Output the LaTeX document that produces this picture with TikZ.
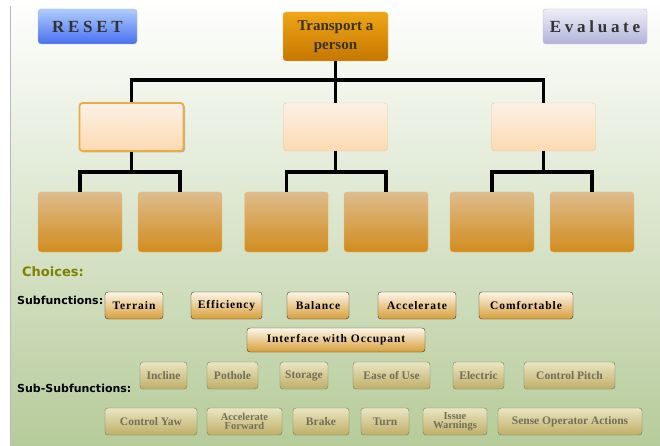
\documentclass[tikz,border=0pt]{standalone}
\usepackage{fontspec}
\setmainfont{Liberation Serif}
\setsansfont{DejaVu Sans}
\newfontfamily\widefont[LetterSpace=22]{Liberation Serif}
\newfontfamily\btnfont[LetterSpace=8]{Liberation Serif}
\usetikzlibrary{shadows}

\definecolor{bgmid}{RGB}{218,228,204}
\definecolor{bgbot}{RGB}{182,203,154}
\definecolor{resettop}{RGB}{176,204,252}
\definecolor{resetbot}{RGB}{72,112,240}
\definecolor{evaltop}{RGB}{238,238,246}
\definecolor{evalbot}{RGB}{178,178,220}
\definecolor{roottop}{RGB}{238,166,22}
\definecolor{rootbot}{RGB}{198,118,0}
\definecolor{roottext}{RGB}{56,50,24}
\definecolor{midtop}{RGB}{252,241,230}
\definecolor{midbot}{RGB}{252,218,178}
\definecolor{midline}{RGB}{240,200,140}
\definecolor{selline}{RGB}{232,172,72}
\definecolor{leaftop}{RGB}{222,188,140}
\definecolor{leafbot}{RGB}{210,140,30}
\definecolor{leafline}{RGB}{234,194,124}
\definecolor{subtop}{RGB}{252,246,232}
\definecolor{subbot}{RGB}{216,158,58}
\definecolor{subline}{RGB}{62,52,32}
\definecolor{offtop}{RGB}{234,230,194}
\definecolor{offbot}{RGB}{192,174,104}
\definecolor{offline}{RGB}{120,122,92}
\definecolor{offtext}{RGB}{112,112,88}
\definecolor{olivetext}{RGB}{128,128,0}

\begin{document}
\begin{tikzpicture}[x=1pt, y=-1pt,
  box/.style={rounded corners=3pt, inner sep=0pt},
  topbtn/.style={box, draw=gray!50, minimum height=35pt,
    font=\widefont\bfseries\fontsize{17}{20}\selectfont, text=black!80},
  midbox/.style={box, draw=midline, top color=midtop, bottom color=midbot,
    minimum width=104pt, minimum height=48pt},
  leafbox/.style={box, draw=leafline, top color=leaftop, bottom color=leafbot,
    minimum width=84pt, minimum height=60pt},
  tree/.style={line width=3.5pt, black},
  subbtn/.style={box, draw=subline, top color=subtop, bottom color=subbot,
    minimum height=27pt, font=\btnfont\bfseries\fontsize{11.5}{12}\selectfont},
  offbtn/.style={box, draw=offline, top color=offtop, bottom color=offbot,
    minimum height=27pt, text=offtext, align=center,
    font=\bfseries\fontsize{11.5}{10}\selectfont},
  twoline/.style={font=\bfseries\fontsize{10.5}{9.5}\selectfont},
  label/.style={anchor=west, inner sep=0pt, font=\sffamily\bfseries\fontsize{11}{13}\selectfont}]

  \useasboundingbox (0,0) rectangle (660,446);
  \fill[white] (0,0) rectangle (660,446);
  \shade[top color=white, middle color=bgmid, bottom color=bgbot] (11,0) rectangle (660,446);
  \draw[gray!55, line width=1pt] (10.5,6) -- (10.5,446);

  \node[topbtn, top color=resettop, bottom color=resetbot, minimum width=99pt] (reset) at (87.5,26.5) {RESET};
  \node[topbtn, top color=evaltop, bottom color=evalbot, minimum width=104pt] (evaluate) at (595,26.5) {Evaluate};
  \node[box, draw=roottop!70, top color=roottop, bottom color=rootbot, minimum width=105pt, minimum height=49pt,
    align=center, text=roottext, font=\bfseries\fontsize{15}{19}\selectfont] (root) at (335.5,36.5) {Transport a\\person};

  \node[midbox, draw=selline, line width=1.8pt, drop shadow={shadow xshift=1.5pt, shadow yshift=-1.5pt, opacity=0.4, fill=brown!70!black}] (mid1) at (131.5,127) {};
  \node[midbox] (mid2) at (335.5,127) {};
  \node[midbox] (mid3) at (543.5,127) {};

  \node[leafbox] (leaf1) at (80,222) {};
  \node[leafbox] (leaf2) at (180,222) {};
  \node[leafbox] (leaf3) at (286.5,222) {};
  \node[leafbox] (leaf4) at (386,222) {};
  \node[leafbox] (leaf5) at (492,222) {};
  \node[leafbox] (leaf6) at (592,222) {};

  \coordinate (bar) at (0,80);
  \draw[tree] (root.south) -- (mid2.north);
  \draw[tree] (mid1.north) -- (mid1.north |- bar) -- (mid3.north |- bar) -- (mid3.north);
  \foreach \m/\a/\b in {mid1/leaf1/leaf2, mid2/leaf3/leaf4, mid3/leaf5/leaf6} {
    \draw[tree] (\m.south) -- ++(0,21);
    \draw[tree] (\a.north) -- ++(0,-20) -| (\b.north);
  }

  \node[label, text=olivetext, font=\sffamily\bfseries\fontsize{13}{15}\selectfont] (choices) at (22,272) {Choices:};
  \node[label] (subf) at (17,300) {Subfunctions:};
  \node[label] (subsubf) at (17,388) {Sub-Subfunctions:};

  \node[subbtn, minimum width=58pt] (terrain) at (134,305.5) {Terrain};
  \node[subbtn, minimum width=71pt] (efficiency) at (226.5,305.5) {Efficiency};
  \node[subbtn, minimum width=62pt] (balance) at (318,305.5) {Balance};
  \node[subbtn, minimum width=78pt] (accelerate) at (417,305.5) {Accelerate};
  \node[subbtn, minimum width=94pt] (comfortable) at (526,305.5) {Comfortable};
  \node[subbtn, minimum width=178pt, minimum height=24pt] (interface) at (336,340) {Interface with Occupant};

  \node[offbtn, minimum width=47pt] (incline) at (163.5,375.5) {Incline};
  \node[offbtn, minimum width=51pt] (pothole) at (232.5,375.5) {Pothole};
  \node[offbtn, minimum width=48pt] (storage) at (304,375.5) {Storage};
  \node[offbtn, minimum width=77pt] (easeofuse) at (391.5,375.5) {Ease of Use};
  \node[offbtn, minimum width=51pt] (electric) at (478.5,375.5) {Electric};
  \node[offbtn, minimum width=91pt] (pitch) at (569.5,375.5) {Control Pitch};

  \node[offbtn, minimum width=92pt] (yaw) at (151,421.5) {Control Yaw};
  \node[offbtn, twoline, minimum width=75pt] (accfwd) at (244.5,421.5) {Accelerate\\Forward};
  \node[offbtn, minimum width=56pt] (brake) at (321,421.5) {Brake};
  \node[offbtn, minimum width=48pt] (turn) at (385,421.5) {Turn};
  \node[offbtn, twoline, minimum width=64pt] (warnings) at (455,421.5) {Issue\\Warnings};
  \node[offbtn, minimum width=144pt] (sense) at (570,421.5) {Sense Operator Actions};
\end{tikzpicture}
\end{document}
